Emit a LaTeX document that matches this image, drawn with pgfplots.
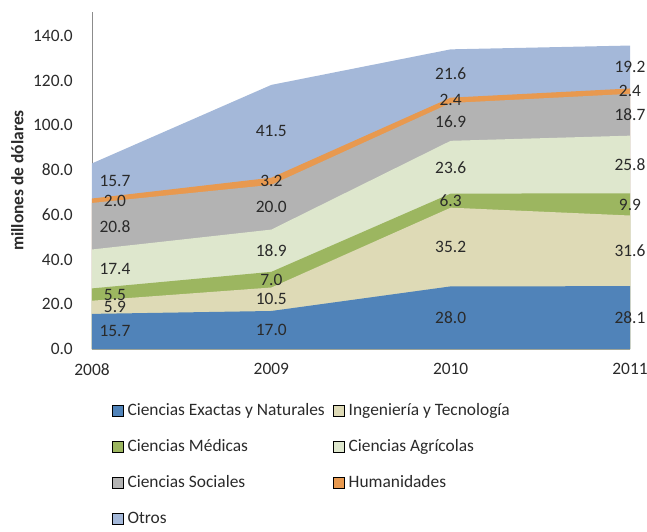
\documentclass[border=0pt]{standalone}
\usepackage{fontspec}
\setmainfont{Carlito}
\usepackage{pgfplots}
\usepackage{pgfplotstable}
\pgfplotsset{compat=1.18}

\definecolor{cExactas}{HTML}{5083B9}
\definecolor{cIng}{HTML}{DEDAB6}
\definecolor{cMed}{HTML}{9CB660}
\definecolor{cAgr}{HTML}{DEE7CD}
\definecolor{cSoc}{HTML}{B3B3B3}
\definecolor{cHum}{HTML}{E8994F}
\definecolor{cOtros}{HTML}{A4B8D9}
\definecolor{txt}{HTML}{2A2A2A}
\definecolor{axisgray}{HTML}{8C8C8C}

% millones de dólares por área de conocimiento
\pgfplotstableread{
year exactas ingenieria medicas agricolas sociales humanidades otros
2008 15.7 5.9  5.5 17.4 20.8 2.0 15.7
2009 17.0 10.5 7.0 18.9 20.0 3.2 41.5
2010 28.0 35.2 6.3 23.6 16.9 2.4 21.6
2011 28.1 31.6 9.9 25.8 18.7 2.4 19.2
}\datatable

\newcommand{\fs}{\fontsize{17.4}{20}\selectfont}

\pgfplotsset{
    area/.style={draw=none, fill=#1, forget plot},
    lbl/.style={draw=none, mark=none, forget plot,
        nodes near coords, point meta=explicit symbolic,
        visualization depends on={\thisrow{year} \as \yr},
        every node near coord/.append style={anchor=center, inner sep=0pt,
            font=\fs, text=txt, xshift={(\yr==2008)*23}}},
    legsq/.style={legend image code/.code={
        \fill[##1] (0pt,-5.5pt) rectangle (11pt,5.5pt);}},
}

\begin{document}
\begin{tikzpicture}
\useasboundingbox (-92pt,-182pt) rectangle (555pt,349pt);
\begin{axis}[
    at={(0pt,0pt)}, anchor=south west,
    scale only axis, width=538pt, height=337pt,
    xmin=2008, xmax=2011, ymin=0, ymax=150.7,
    xtick={2008,2009,2010,2011},
    ytick={0,20,...,140},
    axis x line*=bottom, axis y line*=left,
    axis line style={draw=axisgray, line width=0.8pt},
    major tick length=0pt,
    tick label style={font=\fs, text=txt},
    /pgf/number format/assume math mode=true,
    xticklabel style={/pgf/number format/1000 sep={}, anchor=north, inner sep=0pt, yshift=-14pt},
    yticklabel style={/pgf/number format/.cd, fixed, fixed zerofill, precision=1, /tikz/.cd,
        anchor=east, inner sep=0pt, xshift=-19pt},
    ylabel={\bfseries millones de dólares},
    every axis y label/.style={at={(axis description cs:-0.139,0.5)}, rotate=90,
        anchor=center, font=\fs, text=txt},
    clip=false,
    legend columns=2,
    legend cell align=left,
    legend style={draw=none, fill=none, font=\fs, text=txt,
        at={(axis description cs:0.037,-0.157)}, anchor=north west,
        inner sep=0pt, row sep=19.5pt,
        nodes={inner sep=1.5pt},
        /tikz/every odd column/.append style={column sep=2.5pt},
        /tikz/every even column/.append style={column sep=7pt}},
]
% areas acumuladas, de arriba hacia abajo
\addplot[area=cOtros] table[x=year, y expr=\thisrow{exactas}+\thisrow{ingenieria}+\thisrow{medicas}+\thisrow{agricolas}+\thisrow{sociales}+\thisrow{humanidades}+\thisrow{otros}] {\datatable} \closedcycle;
\addplot[area=cHum] table[x=year, y expr=\thisrow{exactas}+\thisrow{ingenieria}+\thisrow{medicas}+\thisrow{agricolas}+\thisrow{sociales}+\thisrow{humanidades}] {\datatable} \closedcycle;
\addplot[area=cSoc] table[x=year, y expr=\thisrow{exactas}+\thisrow{ingenieria}+\thisrow{medicas}+\thisrow{agricolas}+\thisrow{sociales}] {\datatable} \closedcycle;
\addplot[area=cAgr] table[x=year, y expr=\thisrow{exactas}+\thisrow{ingenieria}+\thisrow{medicas}+\thisrow{agricolas}] {\datatable} \closedcycle;
\addplot[area=cMed] table[x=year, y expr=\thisrow{exactas}+\thisrow{ingenieria}+\thisrow{medicas}] {\datatable} \closedcycle;
\addplot[area=cIng] table[x=year, y expr=\thisrow{exactas}+\thisrow{ingenieria}] {\datatable} \closedcycle;
\addplot[area=cExactas] table[x=year, y=exactas] {\datatable} \closedcycle;

% etiquetas en el centro de cada banda
\addplot[lbl] table[x=year, y expr=\thisrow{exactas}/2, meta=exactas] {\datatable};
\addplot[lbl] table[x=year, y expr=\thisrow{exactas}+\thisrow{ingenieria}/2, meta=ingenieria] {\datatable};
\addplot[lbl] table[x=year, y expr=\thisrow{exactas}+\thisrow{ingenieria}+\thisrow{medicas}/2, meta=medicas] {\datatable};
\addplot[lbl] table[x=year, y expr=\thisrow{exactas}+\thisrow{ingenieria}+\thisrow{medicas}+\thisrow{agricolas}/2, meta=agricolas] {\datatable};
\addplot[lbl] table[x=year, y expr=\thisrow{exactas}+\thisrow{ingenieria}+\thisrow{medicas}+\thisrow{agricolas}+\thisrow{sociales}/2, meta=sociales] {\datatable};
\addplot[lbl] table[x=year, y expr=\thisrow{exactas}+\thisrow{ingenieria}+\thisrow{medicas}+\thisrow{agricolas}+\thisrow{sociales}+\thisrow{humanidades}/2, meta=humanidades] {\datatable};
\addplot[lbl] table[x=year, y expr=\thisrow{exactas}+\thisrow{ingenieria}+\thisrow{medicas}+\thisrow{agricolas}+\thisrow{sociales}+\thisrow{humanidades}+\thisrow{otros}/2, meta=otros] {\datatable};

\addlegendimage{legsq, fill=cExactas}
\addlegendentry{Ciencias Exactas y Naturales}
\addlegendimage{legsq, fill=cIng}
\addlegendentry{Ingeniería y Tecnología}
\addlegendimage{legsq, fill=cMed}
\addlegendentry{Ciencias Médicas}
\addlegendimage{legsq, fill=cAgr}
\addlegendentry{Ciencias Agrícolas}
\addlegendimage{legsq, fill=cSoc}
\addlegendentry{Ciencias Sociales}
\addlegendimage{legsq, fill=cHum}
\addlegendentry{Humanidades}
\addlegendimage{legsq, fill=cOtros}
\addlegendentry{Otros}
\end{axis}
\end{tikzpicture}
\end{document}
